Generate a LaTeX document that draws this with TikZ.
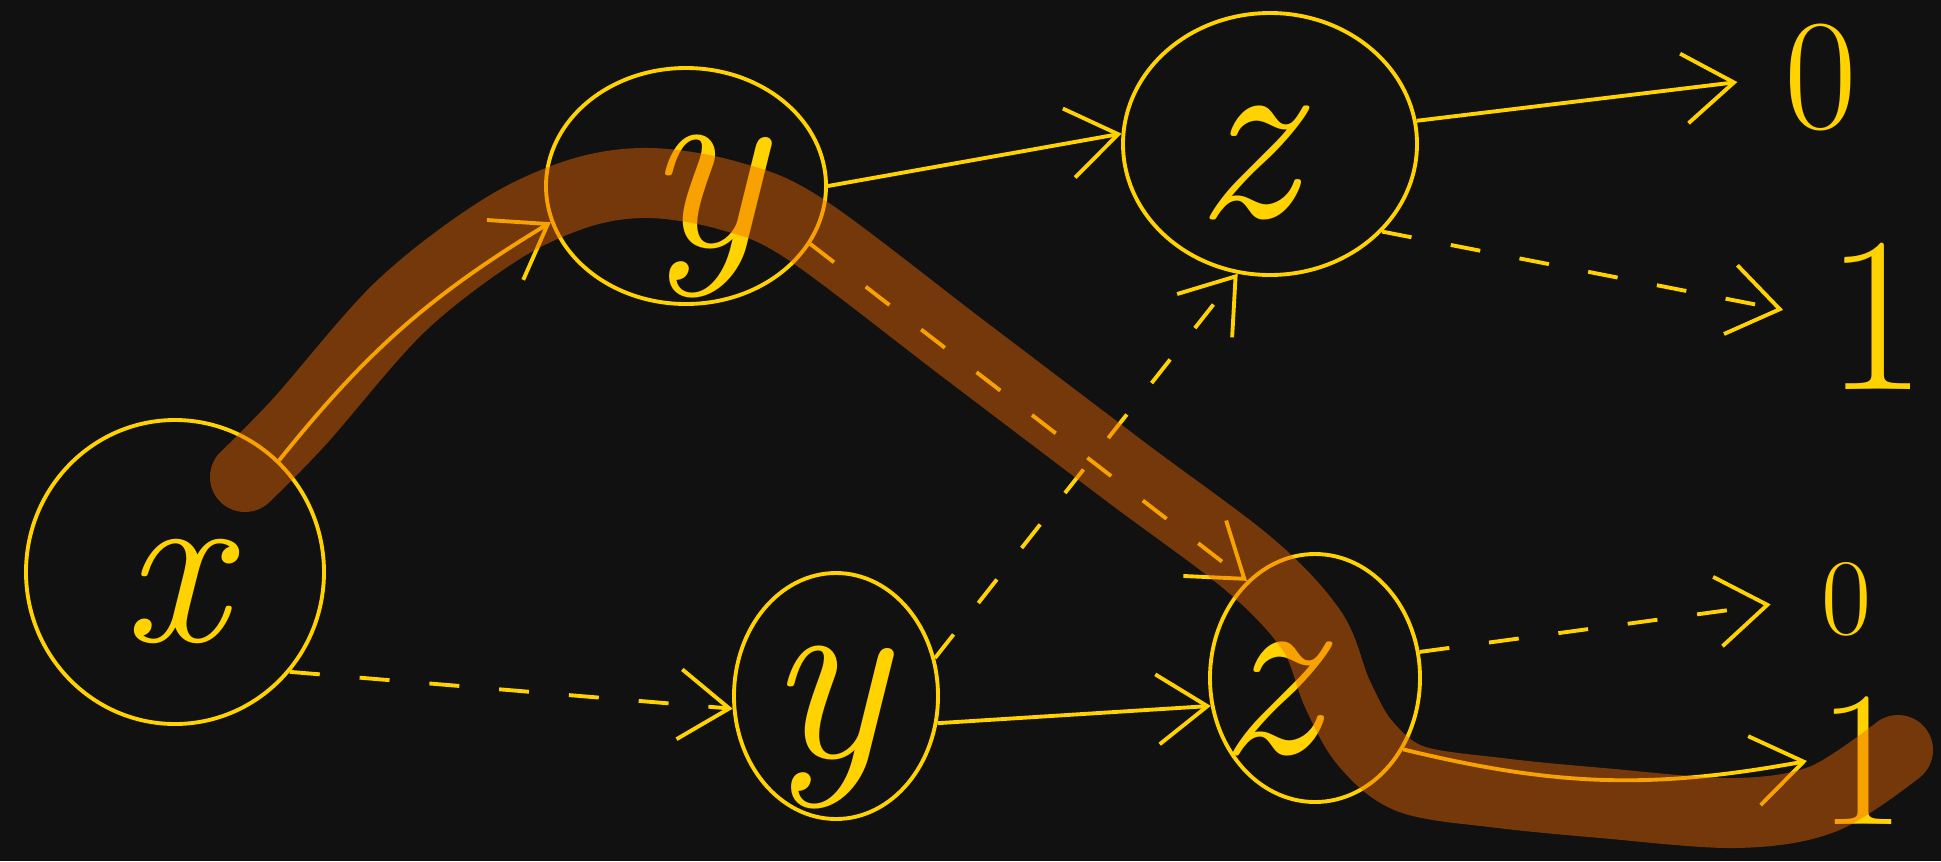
\documentclass[tikz,border=0pt]{standalone}
\usepackage{fontspec}
\usetikzlibrary{arrows.meta,shapes.geometric}
\definecolor{board}{HTML}{111111}
\definecolor{chalk}{HTML}{FFD200}
\definecolor{marker}{RGB}{239,104,4}

\begin{document}
\begin{tikzpicture}[x=0.1mm,y=0.1mm,
  var/.style={ellipse,draw=chalk,line width=1.1pt,inner sep=0pt},
  letter/.style={text=chalk,inner sep=0pt,font=\itshape\fontsize{72}{72}\selectfont},
  term/.style={text=chalk,inner sep=1mm},
  hi/.style={draw=chalk,line width=1.1pt,-{Straight Barb[length=5mm,width=7mm]}},
  lo/.style={hi,dash pattern=on 3mm off 4mm},
  gap/.style={shorten >=#1}]

\fill[board] (0,0) rectangle (1941,861);
\useasboundingbox (0,0) rectangle (1941,861);

\node[var,minimum width=29.8mm,minimum height=30.4mm,
  label={[letter,font=\itshape\fontsize{66}{66}\selectfont,yshift=-1.9mm]center:x}] (x) at (175,289) {};
\node[var,minimum width=28mm,minimum height=23.6mm,
  label={[letter,xshift=1.9mm,yshift=-3.1mm]center:y}] (ty) at (686,675) {};
\node[var,minimum width=29.4mm,minimum height=26.2mm,
  label={[letter,xshift=-2.5mm,yshift=-1.9mm]center:z}] (tz) at (1270,717) {};
\node[var,minimum width=20.4mm,minimum height=24.6mm,
  label={[letter,xshift=-0.9mm,yshift=-3.1mm]center:y}] (by) at (836,165) {};
\node[var,minimum width=21mm,minimum height=24.8mm,
  label={[letter,xshift=-4.7mm,yshift=-2.1mm]center:z}] (bz) at (1315,183) {};

\node[term,inner sep=0.5mm,font=\fontsize{45}{45}\selectfont] (t0) at (1821,784) {0};
\node[term,font=\fontsize{63}{63}\selectfont] (t1) at (1876,545) {1};
\node[term,font=\fontsize{31}{31}\selectfont] (b0) at (1846,262) {0};
\node[term,font=\fontsize{55}{55}\selectfont] (b1) at (1862,100) {1};

% then / else edges
\draw[hi] (x.47) to[bend left=10] (ty.195);
\draw[lo] (x.-41) -- (by.187);
\draw[hi] (ty.0) -- (tz.176);
\draw[lo] (ty.-25) -- (bz.125);
\draw[lo] (by.21) -- (tz.-104);
\draw[hi] (by.-15) -- (bz.195);
\draw[hi,gap=4.2mm] (tz.9) -- (t0.west);
\draw[lo,gap=3.2mm] (tz.-38) -- (t1.west);
\draw[lo,gap=4mm] (bz.14) -- (b0.west);
\draw[hi] (bz.-39) to[bend right=12] (b1.west);

% highlighted path
\draw[marker,opacity=0.45,line width=7mm,line cap=round,line join=round]
  plot[smooth,tension=0.55] coordinates {(245,384) (300,440) (400,554) (500,631) (580,668)
  (650,678) (730,665) (805,632) (965,511) (1126,389) (1250,296) (1312,230) (1337,168)
  (1365,118) (1411,82) (1500,68) (1602,58) (1735,48) (1823,62) (1898,111)};
\end{tikzpicture}
\end{document}
